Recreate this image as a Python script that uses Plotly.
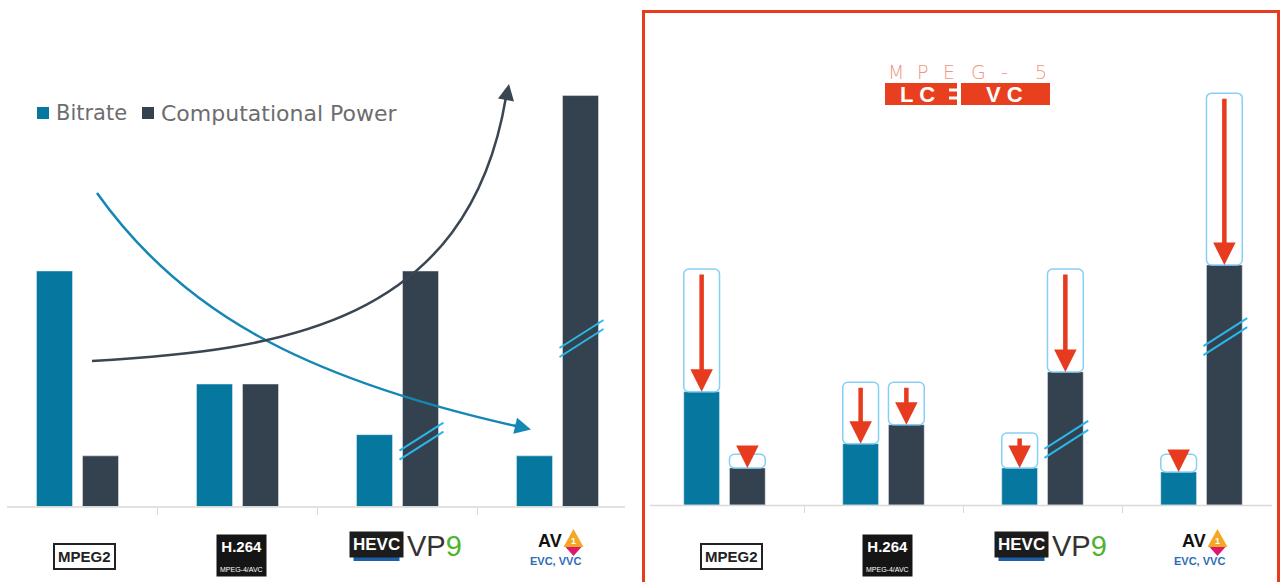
import plotly.graph_objects as go

# ---------------- data ----------------
codecs = ["MPEG2", "H.264", "HEVC / VP9", "AV1 / EVC / VVC"]
series_names = ["Bitrate", "Computational Power"]
bitrate = [100, 52, 30.5, 21.5]            # left panel, relative units
compute = [21.5, 52, 100, 174.5]
bitrate_lcevc = [48, 26, 15.7, 14]          # right panel (with MPEG-5 LCEVC)
compute_lcevc = [15.7, 34, 56.4, 101.7]
broken_bars = [2, 3]                        # computational bars drawn with an axis break

# ---------------- style ----------------
W, H = 1281, 582
TEAL = "#06789f"
DARK = "#34414e"
LIGHT = "#86d0f5"
RED = "#e63b1f"
CYAN = "#2ab8ea"
GRID = "#d9d9d9"

def px(x):
    return x / W

def py(y):
    return 1 - y / H

idx = list(range(len(codecs)))
BW = 36 / 160
GAP = 10 / 160
OFF_B = -GAP / 2 - BW
OFF_C = GAP / 2

L_PPU = 2.355   # px per unit, left
R_PPU = 2.36    # px per unit, right
L_BASE, R_BASE = 506.5, 505

fig = go.Figure()

# left panel bars
fig.add_trace(go.Bar(x=idx, y=bitrate, width=BW, offset=OFF_B, marker_color=TEAL,
                     name=series_names[0], xaxis="x", yaxis="y", showlegend=False))
fig.add_trace(go.Bar(x=idx, y=compute, width=BW, offset=OFF_C, marker_color=DARK,
                     name=series_names[1], xaxis="x", yaxis="y", showlegend=False))

# right panel: reduced bars + outlines of the original height
fig.add_trace(go.Bar(x=idx, y=bitrate_lcevc, width=BW, offset=OFF_B, marker_color=TEAL,
                     xaxis="x2", yaxis="y2", showlegend=False))
fig.add_trace(go.Bar(x=idx, y=compute_lcevc, width=BW, offset=OFF_C, marker_color=DARK,
                     xaxis="x2", yaxis="y2", showlegend=False))
fig.add_trace(go.Bar(x=idx, y=[o - n for o, n in zip(bitrate, bitrate_lcevc)], base=bitrate_lcevc,
                     width=BW, offset=OFF_B,
                     marker=dict(color="white", line=dict(color=LIGHT, width=1.5), cornerradius=5),
                     xaxis="x2", yaxis="y2", showlegend=False))
fig.add_trace(go.Bar(x=idx, y=[o - n for o, n in zip(compute, compute_lcevc)], base=compute_lcevc,
                     width=BW, offset=OFF_C,
                     marker=dict(color="white", line=dict(color=LIGHT, width=1.5), cornerradius=5),
                     xaxis="x2", yaxis="y2", showlegend=False))

annotations = []
shapes = []

def text(x, y, s, size, color, family="Liberation Sans, Arial", weight="normal", **kw):
    d = dict(x=px(x), y=py(y), xref="paper", yref="paper", text=s, showarrow=False,
             xanchor="center", yanchor="middle",
             font=dict(family=family, size=size, color=color, weight=weight))
    d.update(kw)
    annotations.append(d)

# red arrows (right panel)
for vals_old, vals_new, off in [(bitrate, bitrate_lcevc, OFF_B), (compute, compute_lcevc, OFF_C)]:
    for i in idx:
        xc = i + off + BW / 2
        annotations.append(dict(x=xc, y=vals_new[i], xref="x2", yref="y2",
                                ax=xc, ay=vals_old[i] - 4 / R_PPU, axref="x2", ayref="y2",
                                showarrow=True, arrowhead=2, arrowsize=1.0, arrowwidth=4.5,
                                arrowcolor=RED, text="", standoff=0))

# axis break marks
for xr, yr, ppu, ppx in [("x", "y", L_PPU, 160), ("x2", "y2", R_PPU, 159)]:
    for i in broken_bars:
        yb = (compute[i] * (0.28 if i == 2 else 0.41))
        x0 = i + OFF_C - 3 / ppx
        x1 = i + OFF_C + BW + 5 / ppx
        rise = 28 / ppu
        for k in (0, 1):
            dy = -k * 9 / ppu
            shapes.append(dict(type="line", xref=xr, yref=yr, x0=x0, x1=x1,
                               y0=yb - rise / 2 + dy + 4 / ppu, y1=yb + rise / 2 + dy + 4 / ppu,
                               line=dict(color=CYAN, width=2)))

# axis baselines
shapes.append(dict(type="line", xref="paper", yref="paper", x0=px(7), x1=px(625),
                   y0=py(507), y1=py(507), line=dict(color=GRID, width=1.5)))
shapes.append(dict(type="line", xref="paper", yref="paper", x0=px(650), x1=px(1272),
                   y0=py(505.5), y1=py(505.5), line=dict(color=GRID, width=1.5)))

# trend curves (left panel)
def P(x, y):
    return f"{px(x)},{py(y)}"

shapes.append(dict(type="path", xref="paper", yref="paper",
                   path=f"M {P(97,193)} C {P(180,310)} {P(300,378)} {P(520,427)}",
                   line=dict(color="#1587b4", width=2.5)))
shapes.append(dict(type="path", xref="paper", yref="paper",
                   path=f"M {P(92,361)} C {P(280,350)} {P(468,325)} {P(506,97)}",
                   line=dict(color="#3a4652", width=2.5)))
annotations.append(dict(x=px(531), y=py(429.5), xref="paper", yref="paper",
                        ax=-19, ay=-4.5, axref="pixel", ayref="pixel",
                        showarrow=True, arrowhead=2, arrowsize=1.3, arrowwidth=2.5,
                        arrowcolor="#1587b4", text="", standoff=0))
annotations.append(dict(x=px(509), y=py(84), xref="paper", yref="paper",
                        ax=-3, ay=16, axref="pixel", ayref="pixel",
                        showarrow=True, arrowhead=2, arrowsize=1.3, arrowwidth=2.5,
                        arrowcolor="#3a4652", text="", standoff=0))

# legend
shapes.append(dict(type="rect", xref="paper", yref="paper", x0=px(37), x1=px(49),
                   y0=py(119), y1=py(107), fillcolor=TEAL, line=dict(width=0)))
shapes.append(dict(type="rect", xref="paper", yref="paper", x0=px(142), x1=px(154),
                   y0=py(119), y1=py(107), fillcolor=DARK, line=dict(width=0)))
text(54, 113.5, series_names[0], 21, "#6d6d6d", family="DejaVu Sans, sans-serif", xanchor="left")
text(159, 113.5, series_names[1], 22, "#6d6d6d", family="DejaVu Sans, sans-serif", xanchor="left")

# red frame around the right panel
shapes.append(dict(type="rect", xref="paper", yref="paper", x0=px(643.5), x1=px(1278.5),
                   y0=py(600), y1=py(11.5), line=dict(color=RED, width=3), fillcolor="rgba(0,0,0,0)"))

# MPEG-5 LCEVC logo
for ch, xc in zip(["M", "P", "E", "G", "-", "5"], [896, 922, 949, 978, 1004, 1041]):
    text(xc, 71.5, ch, 19, "#f29580", family="DejaVu Sans ExtraLight, DejaVu Sans, sans-serif",
         weight=200)
shapes.append(dict(type="rect", xref="paper", yref="paper", x0=px(885), x1=px(957),
                   y0=py(105), y1=py(83), fillcolor="#e8401f", line=dict(width=0)))
shapes.append(dict(type="rect", xref="paper", yref="paper", x0=px(961), x1=px(1050),
                   y0=py(105), y1=py(83), fillcolor="#e8401f", line=dict(width=0)))
for y0, y1 in [(88.5, 91.5), (96.5, 99.5)]:
    shapes.append(dict(type="rect", xref="paper", yref="paper", x0=px(949), x1=px(957.5),
                       y0=py(y1), y1=py(y0), fillcolor="white", line=dict(width=0)))
for txt, xc in [("L C", 917), ("V C", 1004)]:
    text(xc, 94.5, f"<b>{txt}</b>", 22, "white")

# codec logos under both panels
for gx in [[77.5 + 160 * i for i in idx], [724.5 + 159 * i for i in idx]]:
    # MPEG2
    text(gx[0] + 7, 556, "<b>MPEG2</b>", 15, "#222",
         family="Liberation Sans Narrow, Liberation Sans, Arial",
         bgcolor="white", bordercolor="#222", borderwidth=2, borderpad=3)
    # H.264
    text(gx[1] + 4, 555, "<b>H.264</b><br><span style='font-size:7px'>MPEG-4/AVC</span>", 15, "white",
         family="Liberation Sans Narrow, Liberation Sans, Arial", bgcolor="#151515", borderpad=3)
    # HEVC
    text(gx[2] - 21, 544, "<b>HEVC</b>", 17, "white",
         family="Liberation Sans Narrow, Liberation Sans, Arial", bgcolor="#1c1c1c", borderpad=3)
    shapes.append(dict(type="rect", xref="paper", yref="paper", x0=px(gx[2] - 44), x1=px(gx[2] + 2),
                       y0=py(561), y1=py(556), fillcolor="#1d5fa8", line=dict(width=0)))
    text(gx[2] + 37, 546, "VP<span style='color:#4fb42d'>9</span>", 29, "#333")
    # AV1 / EVC, VVC
    text(gx[3] - 8, 541, "<b>AV</b>", 18, "#111")
    ax0 = gx[3] + 16
    shapes.append(dict(type="path", xref="paper", yref="paper",
                       path=f"M {P(ax0, 529)} L {P(ax0 + 10, 547)} L {P(ax0 - 10, 547)} Z",
                       fillcolor="#f5a623", line=dict(width=0)))
    shapes.append(dict(type="path", xref="paper", yref="paper",
                       path=f"M {P(ax0 - 8, 547)} L {P(ax0 + 8, 547)} L {P(ax0, 556)} Z",
                       fillcolor="#d81b6a", line=dict(width=0)))
    text(ax0, 541, "<b>1</b>", 9, "white")
    text(gx[3] - 2, 561, "<b>EVC, VVC</b>", 11, "#2a6db6",
         family="Liberation Sans Narrow, Liberation Sans, Arial")

fig.update_layout(
    width=W, height=H,
    margin=dict(l=0, r=0, t=0, b=0),
    paper_bgcolor="white", plot_bgcolor="rgba(0,0,0,0)",
    barmode="overlay",
    showlegend=False,
    xaxis=dict(domain=[0, 637.5 / W], range=[-0.484375, 3.5], tickvals=[0.5, 1.5, 2.5],
               ticks="outside", ticklen=7, tickcolor=GRID, tickwidth=1, showticklabels=False,
               showgrid=False, zeroline=False, showline=False, anchor="y", fixedrange=True),
    yaxis=dict(domain=[(H - L_BASE) / H, 1], range=[0, L_BASE / L_PPU], visible=False, anchor="x"),
    xaxis2=dict(domain=[645 / W, 1], range=[-0.5, 3.5], tickvals=[0.5, 1.5, 2.5],
                ticks="outside", ticklen=7, tickcolor=GRID, tickwidth=1, showticklabels=False,
                showgrid=False, zeroline=False, showline=False, anchor="y2"),
    yaxis2=dict(domain=[(H - R_BASE) / H, 1], range=[0, R_BASE / R_PPU], visible=False, anchor="x2"),
    shapes=shapes,
    annotations=annotations,
)

fig.write_html("out.html")
